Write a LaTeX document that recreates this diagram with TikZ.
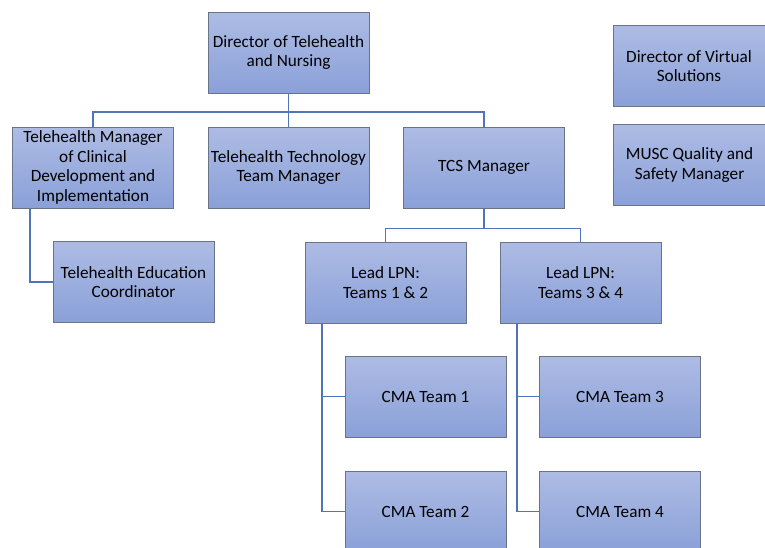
\documentclass[tikz,border=0pt]{standalone}
\usepackage{fontspec}
\setmainfont{Carlito}
\definecolor{boxtop}{HTML}{AEBCE4}
\definecolor{boxbot}{HTML}{8AA0D8}
\definecolor{boxline}{HTML}{6A7488}
\definecolor{linkblue}{HTML}{5074B8}
\tikzset{
  unit/.style={draw=boxline, line width=1pt, top color=boxtop, bottom color=boxbot,
    minimum width=161pt, minimum height=81pt, inner sep=0pt, align=center,
    font=\fontsize{17.2}{19.5}\selectfont, text=black},
  link/.style={draw=linkblue, line width=1.5pt}
}

\begin{document}
\begin{tikzpicture}[x=1pt,y=-1pt]
    \useasboundingbox (0,0) rectangle (765,547);
    \begin{scope}
    \clip (0,0) rectangle (765,547);
    % top levels
    \node[unit] (dir) at (288.5,52.5) {Director of Telehealth\\and Nursing};
    \node[unit] (mgr) at (93,167.5) {Telehealth Manager\\of Clinical\\Development and\\Implementation};
    \node[unit] (tech) at (288.5,167.5) {Telehealth Technology\\Team Manager};
    \node[unit] (tcs) at (484,167.5) {TCS Manager};
    \node[unit] (edu) at (133.5,282) {Telehealth Education\\Coordinator};
    \node[unit] (lpnA) at (385.5,282.5) {Lead LPN:\\Teams 1 \& 2};
    \node[unit] (lpnB) at (580.5,282.5) {Lead LPN:\\Teams 3 \& 4};
    % teams
    \node[unit] (cmaA) at (425.5,396.5) {CMA Team 1};
    \node[unit] (cmaB) at (425.5,511.5) {CMA Team 2};
    \node[unit] (cmaC) at (620,396.5) {CMA Team 3};
    \node[unit] (cmaD) at (620,511.5) {CMA Team 4};
    % side boxes
    \node[unit, minimum width=152pt] (virt) at (689,66) {Director of Virtual\\Solutions};
    \node[unit, minimum width=152pt] (musc) at (689.5,165) {MUSC Quality and\\Safety Manager};

    \draw[link] (dir.south) -- ++(0,18.5) coordinate (bus);
    \draw[link] (mgr.north) |- (bus) -| (tcs.north);
    \draw[link] (tech.north) -- (tech.north |- bus);
    \draw[link] ([xshift=-63pt]mgr.south) |- (edu.west);
    \draw[link] (tcs.south) -- ++(0,20) coordinate (tcsbus);
    \draw[link] (lpnA.north) |- (tcsbus) -| (lpnB.north);
    \draw[link] ([xshift=-63.5pt]lpnA.south) |- (cmaA.west);
    \draw[link] ([xshift=-63.5pt]lpnA.south) |- (cmaB.west);
    \draw[link] ([xshift=-63.5pt]lpnB.south) |- (cmaC.west);
    \draw[link] ([xshift=-63.5pt]lpnB.south) |- (cmaD.west);
    \end{scope}
\end{tikzpicture}
\end{document}
